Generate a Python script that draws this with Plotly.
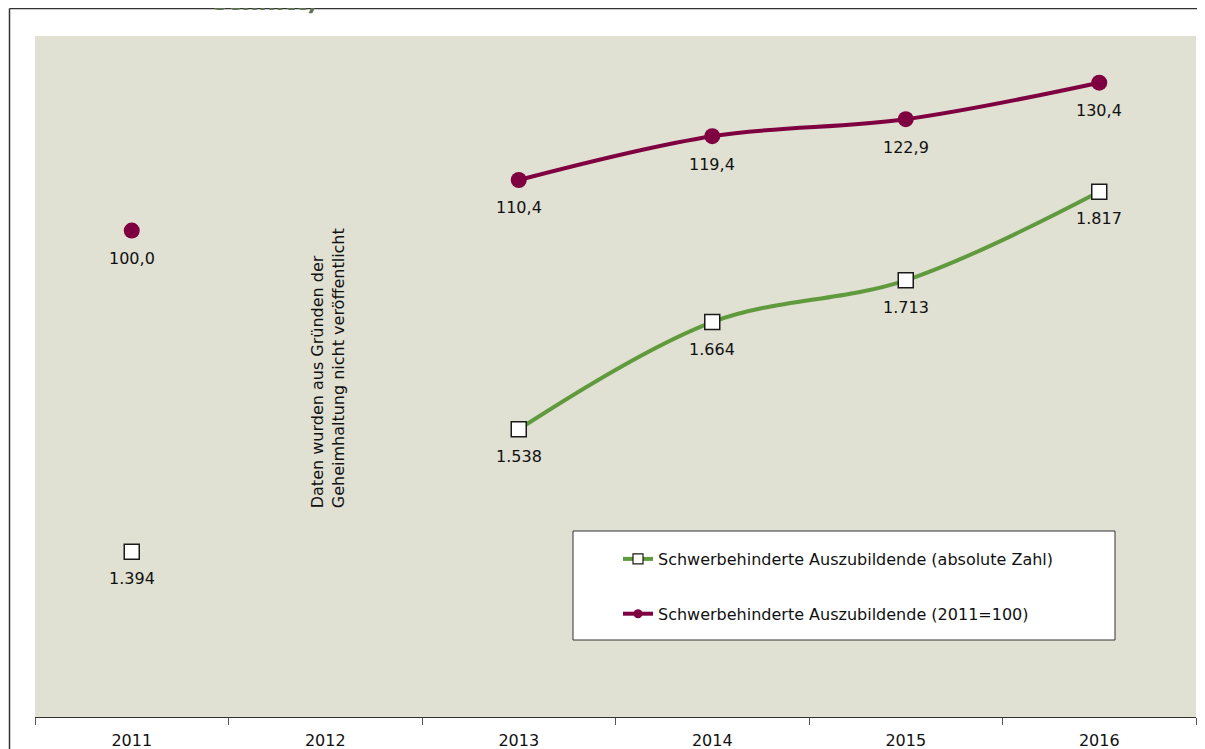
import plotly.graph_objects as go

years = ["2011", "2012", "2013", "2014", "2015", "2016"]
absolute = [1394, None, 1538, 1664, 1713, 1817]
index_vals = [100.0, None, 110.4, 119.4, 122.9, 130.4]

name_abs = "Schwerbehinderte Auszubildende (absolute Zahl)"
name_idx = "Schwerbehinderte Auszubildende (2011=100)"
note_text = "Daten wurden aus Gründen der<br>Geheimhaltung nicht veröffentlicht"
title_fragment = "schnitt)"

GREEN = "#5f9a3c"
PURPLE = "#7f0040"
BG = "#e0e0d3"
FONT = "DejaVu Sans"
FS = 16

OFF = 8  # page offset of the figure (body margin)
W, H = 1205 - OFF, 749 - OFF
PL, PR, PT, PB = 35, 1196, 36, 717  # plot area in page pixels
ML, MR, MT, MB = PL - OFF, (W + OFF) - PR, PT - OFF, (H + OFF) - PB
PW, PH = W - ML - MR, H - MT - MB


def px_x(p):
    return (p - PL) / PW


def px_y(p):
    return (PB - p) / PH


def fmt_abs(v):
    return f"{v:,}".replace(",", ".")


def fmt_idx(v):
    return f"{v:.1f}".replace(".", ",")


fig = go.Figure()

fig.add_trace(go.Scatter(
    x=years, y=absolute, yaxis="y2", mode="lines+markers",
    line=dict(color=GREEN, width=4, shape="spline", smoothing=1),
    marker=dict(symbol="square", size=15, color="white", line=dict(color="#1a1a1a", width=1.5)),
    connectgaps=False, showlegend=False, hoverinfo="skip",
))
fig.add_trace(go.Scatter(
    x=years, y=index_vals, yaxis="y", mode="lines+markers",
    line=dict(color=PURPLE, width=4, shape="spline", smoothing=1),
    marker=dict(symbol="circle", size=16, color=PURPLE),
    connectgaps=False, showlegend=False, hoverinfo="skip",
))

# legend-only entries
fig.add_trace(go.Scatter(
    x=[None], y=[None], mode="lines+markers", name=name_abs, legendgroup="a",
    line=dict(color=GREEN, width=4),
    marker=dict(symbol="square", size=10, color="white", line=dict(color="#1a1a1a", width=1.2)),
))
fig.add_trace(go.Scatter(
    x=[None], y=[None], mode="lines+markers", name=name_idx, legendgroup="b",
    line=dict(color=PURPLE, width=4),
    marker=dict(symbol="circle", size=9, color=PURPLE),
))

shapes = [
    dict(type="rect", xref="paper", yref="paper",
         x0=px_x(573), x1=px_x(1115), y0=px_y(640), y1=px_y(531),
         fillcolor="white", line=dict(color="#333333", width=1), layer="above"),
    dict(type="line", xref="paper", yref="paper",
         x0=px_x(9.5), x1=px_x(9.5), y0=px_y(760), y1=px_y(8.5),
         line=dict(color="#333333", width=1.5)),
    dict(type="line", xref="paper", yref="paper",
         x0=px_x(9.5), x1=px_x(1210), y0=px_y(8.5), y1=px_y(8.5),
         line=dict(color="#333333", width=1.5)),
]

annotations = [
    dict(x=years.index("2012"), y=px_y(368), xref="x", yref="paper", text=note_text, showarrow=False,
         textangle=-90, align="left", font=dict(family=FONT, size=FS, color="#111111"), xshift=3),
    dict(x=px_x(265), y=px_y(18), xref="paper", yref="paper", text="<b>" + title_fragment + "</b>",
         showarrow=False, yanchor="bottom", xanchor="center",
         font=dict(family=FONT, size=24, color="#5f7255")),
]

for i, v in enumerate(absolute):
    if v is not None:
        annotations.append(dict(x=i, y=v, xref="x", yref="y2", text=fmt_abs(v), showarrow=False,
                                yshift=-27, font=dict(family=FONT, size=FS, color="#111111")))
for i, v in enumerate(index_vals):
    if v is not None:
        annotations.append(dict(x=i, y=v, xref="x", yref="y", text=fmt_idx(v), showarrow=False,
                                yshift=-28, font=dict(family=FONT, size=FS, color="#111111")))

fig.update_layout(
    width=W, height=H,
    margin=dict(l=ML, r=MR, t=MT, b=MB, pad=0, autoexpand=False),
    paper_bgcolor="white", plot_bgcolor=BG,
    font=dict(family=FONT, size=FS, color="#111111"),
    xaxis=dict(type="category", categoryorder="array", categoryarray=years,
               range=[-0.5, 5.5], tickson="boundaries", ticks="outside", ticklen=7,
               tickcolor="#555555", tickwidth=1, showline=True, linecolor="#333333", linewidth=1.2,
               showgrid=False, zeroline=False, tickfont=dict(family=FONT, size=FS, color="#111111"),
               ticklabelstandoff=9, automargin=False, fixedrange=True),
    yaxis=dict(range=[0, 140], visible=False, showgrid=False, zeroline=False),
    yaxis2=dict(range=[1200, 2000], overlaying="y", visible=False, showgrid=False, zeroline=False),
    legend=dict(x=px_x(618), y=px_y(542), xanchor="left", yanchor="top",
                bgcolor="rgba(0,0,0,0)", borderwidth=0, tracegroupgap=31,
                traceorder="grouped", font=dict(family=FONT, size=FS, color="#111111")),
    shapes=shapes, annotations=annotations,
    showlegend=True,
)

fig.write_html("out.html")
